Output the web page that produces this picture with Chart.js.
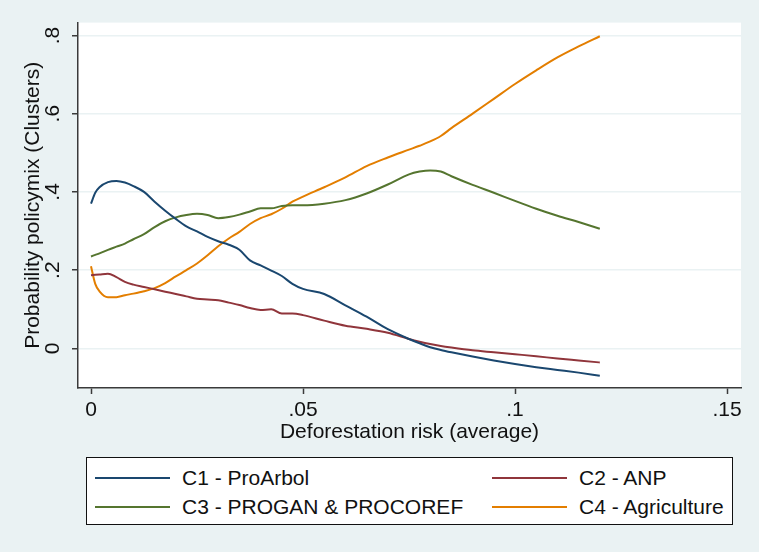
<!DOCTYPE html>
<html>
<head>
<meta charset="utf-8">
<script src="https://cdn.jsdelivr.net/npm/chart.js@4.4.1/dist/chart.umd.min.js"></script>
<style>
    body { margin: 0; background: #eaf2f3; }
    #wrap { position: relative; width: 759px; height: 552px; background: #eaf2f3; }
    #legendBox {
        position: absolute; left: 86px; top: 457px; width: 645px; height: 66px;
        background: #fff; border: 1.5px solid #111;
    }
    .legend-line { position: absolute; height: 2px; width: 75px; }
    .legend-text {
        position: absolute; font-family: "Liberation Sans", Arial, sans-serif;
        font-size: 21px; color: #111; line-height: 24px; white-space: nowrap;
    }
</style>
</head>
<body>
<div id="wrap">
    <canvas id="chart" width="759" height="552"></canvas>
    <div id="legendBox"></div>
</div>
<script>
// Deforestation risk (x) shared by all four curves
const xValues = [0, 0.001, 0.002, 0.004, 0.006, 0.008, 0.01, 0.0125, 0.015, 0.0175, 0.02, 0.0225, 0.025,
    0.0275, 0.03, 0.0325, 0.035, 0.0375, 0.04, 0.0425, 0.045, 0.0475, 0.05, 0.055, 0.06, 0.065,
    0.07, 0.075, 0.0775, 0.08, 0.0825, 0.085, 0.09, 0.095, 0.1, 0.105, 0.11, 0.115, 0.12];

const c1ProArbol = [0.37, 0.398, 0.412, 0.425, 0.428, 0.424, 0.415, 0.40, 0.375, 0.352, 0.331, 0.312, 0.299,
    0.285, 0.274, 0.265, 0.252, 0.225, 0.212, 0.199, 0.185, 0.165, 0.152, 0.139, 0.11, 0.081,
    0.049, 0.024, 0.013, 0.003, -0.004, -0.010, -0.021, -0.031, -0.040, -0.048, -0.055, -0.062, -0.070];

const c2Anp = [0.187, 0.188, 0.189, 0.191, 0.182, 0.170, 0.163, 0.157, 0.151, 0.145, 0.139, 0.133, 0.127,
    0.125, 0.123, 0.117, 0.111, 0.103, 0.098, 0.100, 0.089, 0.089, 0.085, 0.071, 0.058, 0.050,
    0.040, 0.024, 0.017, 0.011, 0.006, 0.002, -0.005, -0.010, -0.015, -0.020, -0.026, -0.031, -0.036];

const c3Progan = [0.235, 0.239, 0.243, 0.252, 0.260, 0.268, 0.279, 0.292, 0.310, 0.325, 0.335, 0.341, 0.344,
    0.341, 0.333, 0.336, 0.342, 0.350, 0.358, 0.358, 0.364, 0.366, 0.366, 0.370, 0.379, 0.396,
    0.419, 0.445, 0.452, 0.455, 0.452, 0.440, 0.418, 0.398, 0.377, 0.357, 0.339, 0.323, 0.306];

const c4Agriculture = [0.21, 0.165, 0.146, 0.131, 0.131, 0.136, 0.140, 0.146, 0.154, 0.167, 0.184, 0.200, 0.217,
    0.238, 0.261, 0.281, 0.298, 0.318, 0.333, 0.343, 0.357, 0.375, 0.388, 0.412, 0.437, 0.466,
    0.488, 0.508, 0.518, 0.529, 0.543, 0.563, 0.600, 0.638, 0.676, 0.711, 0.744, 0.772, 0.798];

const seriesLabels = ['C1 - ProArbol', 'C2 - ANP', 'C3 - PROGAN & PROCOREF', 'C4 - Agriculture'];
const seriesColors = ['#1a476f', '#90353b', '#55752f', '#e37e00'];
const xTicks = [0, 0.05, 0.1, 0.15];
const yTicks = [0, 0.2, 0.4, 0.6, 0.8];

const FONT = '"Liberation Sans", Arial, sans-serif';
const FONT_SIZE = 21;
const AXIS_COLOR = '#3a3a3a';
const GRID_COLOR = '#eaf2f3';

const seriesValues = [c1ProArbol, c2Anp, c3Progan, c4Agriculture];

// Stata style labels: 0, .2, .05 ...
function stataLabel(v) {
    if (v === 0) return '0';
    return String(v).replace(/^0/, '');
}

const plotBackground = {
    id: 'plotBackground',
    beforeDraw(chart) {
        const { ctx, chartArea } = chart;
        ctx.save();
        ctx.fillStyle = '#eaf2f3';
        ctx.fillRect(0, 0, chart.width, chart.height);
        ctx.fillStyle = '#ffffff';
        ctx.fillRect(chartArea.left, chartArea.top, chartArea.right - chartArea.left, chartArea.bottom - chartArea.top);
        ctx.restore();
    }
};

const datasets = seriesValues.map((vals, i) => ({
    label: seriesLabels[i],
    data: vals.map((y, j) => ({ x: xValues[j], y: y })),
    borderColor: seriesColors[i],
    borderWidth: 2,
    pointRadius: 0,
    cubicInterpolationMode: 'monotone',
    fill: false
}));

const ctx = document.getElementById('chart').getContext('2d');
new Chart(ctx, {
    type: 'line',
    data: { datasets: datasets },
    plugins: [plotBackground],
    options: {
        responsive: false,
        animation: false,
        layout: { padding: { left: 0, right: 18, top: 19, bottom: 104 } },
        plugins: {
            legend: { display: false },
            tooltip: { enabled: false }
        },
        scales: {
            x: {
                type: 'linear',
                min: -0.003066,
                max: 0.1533,
                afterBuildTicks: (scale) => { scale.ticks = xTicks.map(v => ({ value: v })); },
                afterFit: (scale) => { scale.height = 60; },
                border: { display: true, color: AXIS_COLOR, width: 1.5 },
                grid: { drawOnChartArea: false, drawTicks: true, tickLength: 6, tickColor: AXIS_COLOR, tickWidth: 1.5 },
                ticks: {
                    autoSkip: false, maxRotation: 0, padding: 4,
                    color: '#111', font: { family: FONT, size: FONT_SIZE },
                    callback: (v) => stataLabel(v)
                },
                title: {
                    display: true, text: 'Deforestation risk (average)',
                    color: '#111', font: { family: FONT, size: FONT_SIZE },
                    padding: { top: 0, bottom: 3 }
                }
            },
            y: {
                type: 'linear',
                min: -0.1013,
                max: 0.8329,
                afterBuildTicks: (scale) => { scale.ticks = yTicks.map(v => ({ value: v })); },
                afterFit: (scale) => { scale.width = 78; },
                border: { display: true, color: AXIS_COLOR, width: 1.5 },
                grid: { color: GRID_COLOR, lineWidth: 1.5, drawTicks: true, tickLength: 6, tickColor: AXIS_COLOR, tickWidth: 1.5 },
                ticks: {
                    autoSkip: false, minRotation: 90, maxRotation: 90, crossAlign: 'center', padding: 10,
                    color: '#111', font: { family: FONT, size: FONT_SIZE },
                    callback: (v) => stataLabel(v)
                },
                title: {
                    display: true, text: 'Probability policymix (Clusters)',
                    color: '#111', font: { family: FONT, size: FONT_SIZE },
                    padding: { top: 21, bottom: 0 }
                }
            }
        }
    }
});

// Legend drawn from the same labels / colors
const legendBox = document.getElementById('legendBox');
const legendCols = [8, 405];
const legendRows = [19.5, 48.5];
seriesLabels.forEach((label, i) => {
    const col = legendCols[i % 2];
    const row = legendRows[Math.floor(i / 2)];
    const line = document.createElement('div');
    line.className = 'legend-line';
    line.style.left = col + 'px';
    line.style.top = (row - 1) + 'px';
    line.style.background = seriesColors[i];
    legendBox.appendChild(line);
    const text = document.createElement('div');
    text.className = 'legend-text';
    text.style.left = (col + 87) + 'px';
    text.style.top = (row - 12) + 'px';
    text.textContent = label;
    legendBox.appendChild(text);
});
</script>
</body>
</html>
